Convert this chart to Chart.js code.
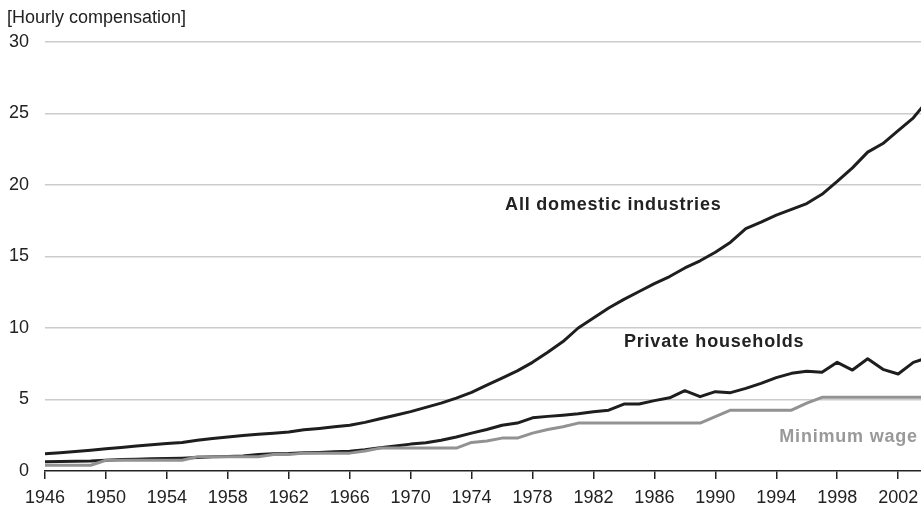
<!DOCTYPE html>
<html lang="en">
<head>
  <meta charset="UTF-8">
  <title>Hourly compensation</title>
  <script src="https://cdn.jsdelivr.net/npm/chart.js"></script>
  <style>
    body { margin: 0; background: #fff; }
    #wrap { width: 921px; height: 509px; }
  </style>
</head>
<body>
  <div id="wrap"><canvas id="chart" width="921" height="509"></canvas></div>
  <script>
    // years 1946 .. 2004
    const years = [];
    for (let y = 1946; y <= 2004; y++) years.push(y);

    const allDomestic = [
      1.20, 1.28, 1.37, 1.45, 1.55, 1.65, 1.74, 1.83, 1.92, 2.00,
      2.15, 2.27, 2.37, 2.48, 2.57, 2.64, 2.73, 2.88, 2.98, 3.10,
      3.20, 3.40, 3.65, 3.90, 4.15, 4.45, 4.75, 5.10, 5.50, 6.00,
      6.50, 7.00, 7.60, 8.30, 9.05, 10.00, 10.70, 11.40, 12.00, 12.55,
      13.10, 13.60, 14.20, 14.70, 15.30, 16.00, 16.95, 17.40, 17.90, 18.30,
      18.70, 19.35, 20.25, 21.20, 22.30, 22.90, 23.80, 24.70, 26.00
    ];
    const privateHouseholds = [
      0.65, 0.66, 0.68, 0.70, 0.75, 0.80, 0.82, 0.85, 0.87, 0.90,
      0.95, 1.00, 1.02, 1.05, 1.15, 1.20, 1.22, 1.27, 1.30, 1.35,
      1.38, 1.48, 1.62, 1.75, 1.88, 1.98, 2.15, 2.38, 2.65, 2.90,
      3.20, 3.35, 3.72, 3.82, 3.90, 4.00, 4.15, 4.25, 4.68, 4.68,
      4.92, 5.12, 5.62, 5.20, 5.55, 5.48, 5.78, 6.13, 6.53, 6.83,
      6.97, 6.90, 7.60, 7.06, 7.85, 7.11, 6.78, 7.60, 7.95
    ];
    const minimumWage = [
      0.40, 0.40, 0.40, 0.40, 0.75, 0.75, 0.75, 0.75, 0.75, 0.75,
      1.00, 1.00, 1.00, 1.00, 1.00, 1.15, 1.15, 1.25, 1.25, 1.25,
      1.25, 1.40, 1.60, 1.60, 1.60, 1.60, 1.60, 1.60, 2.00, 2.10,
      2.30, 2.30, 2.65, 2.90, 3.10, 3.35, 3.35, 3.35, 3.35, 3.35,
      3.35, 3.35, 3.35, 3.35, 3.80, 4.25, 4.25, 4.25, 4.25, 4.25,
      4.75, 5.15, 5.15, 5.15, 5.15, 5.15, 5.15, 5.15, 5.15
    ];

    const xTicks = [1946, 1950, 1954, 1958, 1962, 1966, 1970, 1974, 1978, 1982, 1986, 1990, 1994, 1998, 2002];
    const yTicks = [0, 5, 10, 15, 20, 25, 30];

    const toPoints = (vals) => vals.map((v, i) => ({ x: years[i], y: v }));

    // series labels, anchored in data units (left edge, vertical middle)
    const seriesLabels = [
      { text: 'All domestic industries', x: 1976.2, y: 18.6, color: '#222' },
      { text: 'Private households', x: 1984.0, y: 9.0, color: '#222' },
      { text: 'Minimum wage', x: 1994.2, y: 2.4, color: '#999' }
    ];

    const textPlugin = {
      id: 'textPlugin',
      afterDraw(chart) {
        const ctx = chart.ctx;
        const xs = chart.scales.x, ys = chart.scales.y;
        ctx.save();
        ctx.fillStyle = '#222';
        ctx.font = '18px "Liberation Sans", Arial, sans-serif';
        ctx.textBaseline = 'middle';
        ctx.textAlign = 'left';
        ctx.fillText('[Hourly compensation]', 7, 18);
        ctx.font = 'bold 18px "Liberation Sans", Arial, sans-serif';
        ctx.letterSpacing = '0.8px';
        seriesLabels.forEach(l => {
          ctx.fillStyle = l.color;
          ctx.fillText(l.text, xs.getPixelForValue(l.x), ys.getPixelForValue(l.y));
        });
        ctx.restore();
      }
    };

    new Chart(document.getElementById('chart'), {
      type: 'line',
      data: {
        datasets: [
          {
            label: 'Minimum wage',
            data: toPoints(minimumWage),
            borderColor: '#929292',
            borderWidth: 3,
            order: 1
          },
          {
            label: 'Private households',
            data: toPoints(privateHouseholds),
            borderColor: '#1e1e1e',
            borderWidth: 3,
            order: 2
          },
          {
            label: 'All domestic industries',
            data: toPoints(allDomestic),
            borderColor: '#1e1e1e',
            borderWidth: 3,
            order: 0
          }
        ]
      },
      options: {
        responsive: false,
        animation: false,
        elements: {
          point: { radius: 0 },
          line: { tension: 0, borderJoinStyle: 'round', borderCapStyle: 'butt' }
        },
        layout: { padding: { left: 8, right: 0, top: 42, bottom: 0 } },
        plugins: {
          legend: { display: false },
          tooltip: { enabled: false },
          title: { display: false }
        },
        scales: {
          x: {
            type: 'linear',
            min: 1946,
            max: 2003.5,
            afterBuildTicks: (scale) => { scale.ticks = xTicks.map(v => ({ value: v })); },
            afterFit: (scale) => {
              scale.height = 38;
              scale.paddingLeft = 0;
              scale.paddingRight = 0;
            },
            grid: {
              drawOnChartArea: false,
              drawTicks: true,
              tickLength: 8,
              color: '#222',
              lineWidth: 1.5
            },
            border: { display: true, color: '#222', width: 1.5 },
            ticks: {
              color: '#222',
              padding: 8,
              maxRotation: 0,
              autoSkip: false,
              font: { size: 18, family: '"Liberation Sans", Arial, sans-serif' },
              callback: (v) => String(v)
            }
          },
          y: {
            min: 0,
            max: 30,
            afterBuildTicks: (scale) => { scale.ticks = yTicks.map(v => ({ value: v })); },
            afterFit: (scale) => { scale.width = 37; },
            grid: {
              drawTicks: false,
              color: (c) => c.tick && c.tick.value === 0 ? 'rgba(0,0,0,0)' : '#cccccc',
              lineWidth: 1.5
            },
            border: { display: false },
            ticks: {
              color: '#222',
              padding: 16,
              font: { size: 18, family: '"Liberation Sans", Arial, sans-serif' }
            }
          }
        }
      },
      plugins: [textPlugin]
    });
  </script>
</body>
</html>
